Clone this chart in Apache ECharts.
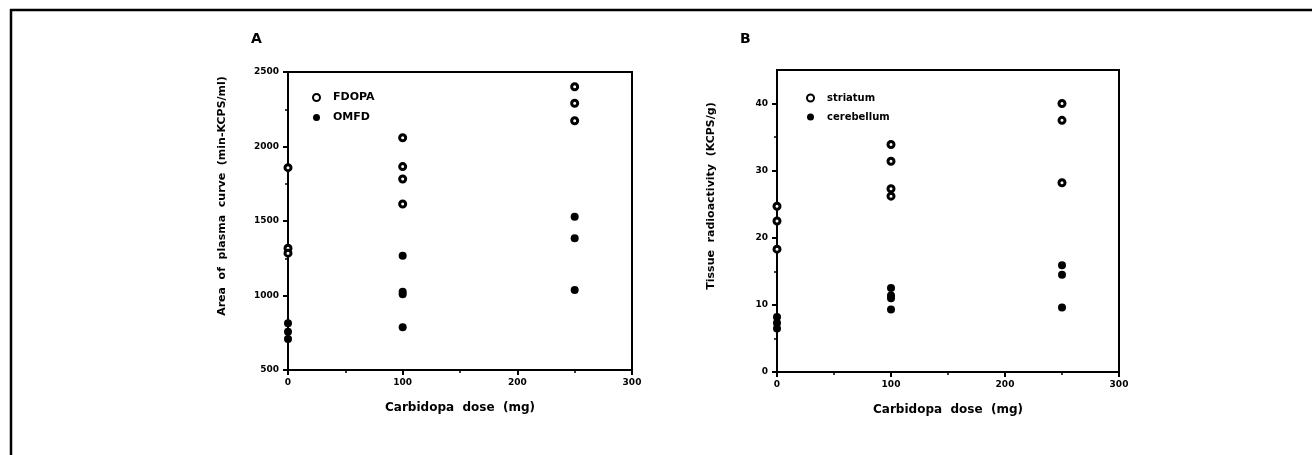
<!DOCTYPE html>
<html>
<head>
<meta charset="utf-8">
<script src="https://cdn.jsdelivr.net/npm/echarts@6/dist/echarts.min.js"></script>
<style>
html,body{margin:0;padding:0;background:#fff;}
#chart{width:1312px;height:455px;}
</style>
</head>
<body>
<div id="chart"></div>
<script>
// ---- data ----
const xTicks = [0, 100, 200, 300];
const yTicksA = [500, 1000, 1500, 2000, 2500];
const yTicksB = [0, 10, 20, 30, 40];

const doseFdopa = [0, 0, 0, 100, 100, 100, 100, 250, 250, 250];
const areaFdopa = [1858, 1317, 1284, 2059, 1865, 1782, 1614, 2401, 2290, 2173];
const doseOmfd  = [0, 0, 0, 100, 100, 100, 100, 250, 250, 250];
const areaOmfd  = [813, 757, 708, 1267, 1026, 1008, 787, 1529, 1384, 1037];

const doseStriatum = [0, 0, 0, 100, 100, 100, 100, 250, 250, 250];
const radStriatum  = [24.7, 22.5, 18.3, 33.9, 31.4, 27.3, 26.2, 40.0, 37.5, 28.2];
const doseCerebellum = [0, 0, 0, 100, 100, 100, 100, 250, 250, 250];
const radCerebellum  = [8.2, 7.3, 6.5, 12.5, 11.4, 11.0, 9.3, 15.9, 14.5, 9.6];

const zip = (xs, ys) => xs.map((x, i) => [x, ys[i]]);

const FONT = 'DejaVu Sans';
const openStyle = { color: '#fff', borderColor: '#000', borderWidth: 3, opacity: 1 };
const fillStyle = { color: '#000', borderColor: '#000', borderWidth: 0, opacity: 1 };
const plain = v => String(v);

function xAxisCfg(gridIndex) {
  return {
    gridIndex, type: 'value', min: xTicks[0], max: xTicks[xTicks.length - 1], interval: 100,
    name: 'Carbidopa  dose  (mg)', nameLocation: 'middle', nameGap: 32,
    nameTextStyle: { fontFamily: FONT, fontWeight: 'bold', fontSize: 12, color: '#000' },
    axisLine: { lineStyle: { color: '#000', width: 2 } },
    axisTick: { show: true, length: 5, inside: false, lineStyle: { color: '#000', width: 2 } },
    minorTick: { show: true, splitNumber: 2, length: 3, lineStyle: { color: '#000', width: 1.5 } },
    axisLabel: { fontFamily: FONT, fontWeight: 'bold', fontSize: 9, color: '#000', margin: 8, formatter: plain },
    splitLine: { show: false }
  };
}
function yAxisCfg(gridIndex, min, max, interval, ticks, name, pad) {
  return {
    gridIndex, type: 'value', min, max, interval,
    name, nameLocation: 'middle', nameGap: 60,
    nameTextStyle: { fontFamily: FONT, fontWeight: 'bold', fontSize: 11, color: '#000', padding: [0, 0, 0, pad] },
    axisLine: { lineStyle: { color: '#000', width: 2 } },
    axisTick: { show: true, length: 5, customValues: ticks, lineStyle: { color: '#000', width: 2 } },
    minorTick: { show: true, splitNumber: 2, length: 3, lineStyle: { color: '#000', width: 1.5 } },
    axisLabel: { fontFamily: FONT, fontWeight: 'bold', fontSize: 9, color: '#000', margin: 9, formatter: plain, customValues: ticks },
    splitLine: { show: false }
  };
}

const chart = echarts.init(document.getElementById('chart'), null, { renderer: 'canvas' });
chart.setOption({
  backgroundColor: '#fff',
  animation: false,
  title: [
    { text: 'A', left: 246, top: 27, textStyle: { fontFamily: FONT, fontWeight: 'bold', fontSize: 14, color: '#000' } },
    { text: 'B', left: 735, top: 27, textStyle: { fontFamily: FONT, fontWeight: 'bold', fontSize: 14, color: '#000' } }
  ],
  legend: [
    { data: ['FDOPA', 'OMFD'], orient: 'vertical', left: 307, top: 87, itemWidth: 7, itemHeight: 7, itemGap: 9,
      textStyle: { fontFamily: FONT, fontWeight: 'bold', fontSize: 11, color: '#000', padding: [0, 0, 0, 8] } },
    { data: ['striatum', 'cerebellum'], orient: 'vertical', left: 801, top: 88, itemWidth: 7, itemHeight: 7, itemGap: 9,
      textStyle: { fontFamily: FONT, fontWeight: 'bold', fontSize: 10, color: '#000', padding: [0, 0, 0, 8] } }
  ],
  grid: [
    { left: 288, top: 72, width: 344, height: 298, show: true, borderColor: '#000', borderWidth: 2, backgroundColor: 'transparent' },
    { left: 777, top: 70, width: 342, height: 302, show: true, borderColor: '#000', borderWidth: 2, backgroundColor: 'transparent' }
  ],
  xAxis: [xAxisCfg(0), xAxisCfg(1)],
  yAxis: [
    yAxisCfg(0, yTicksA[0], yTicksA[yTicksA.length - 1], 500, yTicksA, 'Area  of  plasma  curve  (min-KCPS/ml)', 50),
    yAxisCfg(1, yTicksB[0], 45, 10, yTicksB, 'Tissue  radioactivity  (KCPS/g)', 50)
  ],
  series: [
    { name: 'FDOPA', type: 'scatter', xAxisIndex: 0, yAxisIndex: 0, symbol: 'circle', symbolSize: 6, itemStyle: openStyle, data: zip(doseFdopa, areaFdopa), z: 5 },
    { name: 'OMFD', type: 'scatter', xAxisIndex: 0, yAxisIndex: 0, symbol: 'circle', symbolSize: 8, itemStyle: fillStyle, data: zip(doseOmfd, areaOmfd), z: 5 },
    { name: 'striatum', type: 'scatter', xAxisIndex: 1, yAxisIndex: 1, symbol: 'circle', symbolSize: 6, itemStyle: openStyle, data: zip(doseStriatum, radStriatum), z: 5 },
    { name: 'cerebellum', type: 'scatter', xAxisIndex: 1, yAxisIndex: 1, symbol: 'circle', symbolSize: 8, itemStyle: fillStyle, data: zip(doseCerebellum, radCerebellum), z: 5 }
  ],
  graphic: [
    { type: 'line', shape: { x1: 10, y1: 10, x2: 1312, y2: 10 }, style: { stroke: '#000', lineWidth: 2.5 } },
    { type: 'line', shape: { x1: 11, y1: 9, x2: 11, y2: 455 }, style: { stroke: '#000', lineWidth: 2.5 } }
  ]
});
</script>
</body>
</html>
